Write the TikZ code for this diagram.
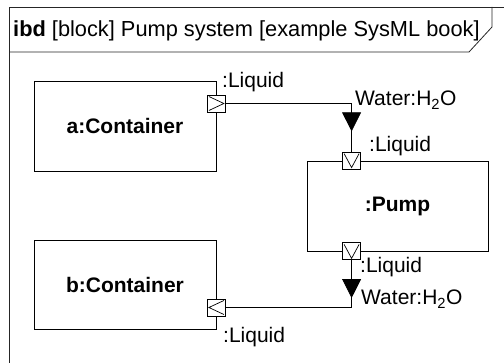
\documentclass[tikz,border=0pt]{standalone}
\usepackage{fontspec}
\setmainfont{Liberation Sans}
\usetikzlibrary{arrows.meta,decorations.markings}

\newcommand{\ibdfont}{\fontsize{21}{25}\selectfont}

\tikzset{
  frameline/.style={line width=0.8pt, draw=black!85},
  block/.style={draw, line width=0.8pt, minimum width=182pt, minimum height=90pt, inner sep=0pt, font=\ibdfont\bfseries},
  port/.style={draw, fill=white, line width=0.8pt, minimum width=18pt, minimum height=17pt, inner sep=0pt},
  portright/.style={port, path picture={
    \draw[line width=0.7pt] ([shift={(1.5pt,-1.5pt)}]path picture bounding box.north west)
      -- ([xshift=-1.5pt]path picture bounding box.east)
      -- ([shift={(1.5pt,1.5pt)}]path picture bounding box.south west);}},
  portleft/.style={port, path picture={
    \draw[line width=0.7pt] ([shift={(-1.5pt,-1.5pt)}]path picture bounding box.north east)
      -- ([xshift=1.5pt]path picture bounding box.west)
      -- ([shift={(-1.5pt,1.5pt)}]path picture bounding box.south east);}},
  portdown/.style={port, path picture={
    \draw[line width=0.7pt] ([shift={(1.5pt,-1.5pt)}]path picture bounding box.north west)
      -- ([yshift=1.5pt]path picture bounding box.south)
      -- ([shift={(-1.5pt,-1.5pt)}]path picture bounding box.north east);}},
  lbl/.style={anchor=base west, inner sep=0pt, font=\ibdfont},
  flow/.style={line width=0.8pt, postaction={decorate}, decoration={markings,
    mark=at position #1 with {\arrow{Triangle[width=19pt,length=19pt]}}}},
}

\begin{document}
\begin{tikzpicture}[x=1pt,y=-1pt]
  \useasboundingbox (0,0) rectangle (504,363);

  % diagram frame and heading
  \draw[frameline] (9,363) -- (9,7) -- (504,7);
  \draw[frameline] (9,52) -- (469,52) -- (492,27) -- (492,7);
  \node[lbl, font=\fontsize{21.8}{25}\selectfont] (title) at (13,37)
    {\textbf{ibd} [block] Pump system [example SysML book]};

  % parts
  \node[block] (a) at (125,126) {a:Container};
  \node[block, minimum height=89pt] (b) at (125,284.5) {b:Container};
  \node[block, minimum width=181pt] (pump) at (397.5,206) {:Pump};

  % connectors
  \coordinate (pumpin) at ([xshift=45pt]pump.north west);
  \coordinate (pumpout) at ([xshift=45pt]pump.south west);
  \node[portright] (pa) at ([yshift=22.5pt]a.east) {};
  \node[portleft] (pb) at ([yshift=-23pt]b.east) {};
  \node[portdown] (pt) at (pumpin) {};
  \node[portdown] (pp) at (pumpout) {};
  \draw[flow=0.883] (pa.east) -| (pt.north);
  \draw[flow=0.218] (pp.south) |- (pb.east);

  % port and item labels
  \node[lbl] (la) at (222,88) {:Liquid};
  \node[lbl] (wa) at (355,106) {Water:H\textsubscript{2}O};
  \node[lbl] (lt) at (369,152) {:Liquid};
  \node[lbl] (lp) at (360,273) {:Liquid};
  \node[lbl] (wb) at (361,305) {Water:H\textsubscript{2}O};
  \node[lbl] (lb) at (223,343) {:Liquid};
\end{tikzpicture}
\end{document}
